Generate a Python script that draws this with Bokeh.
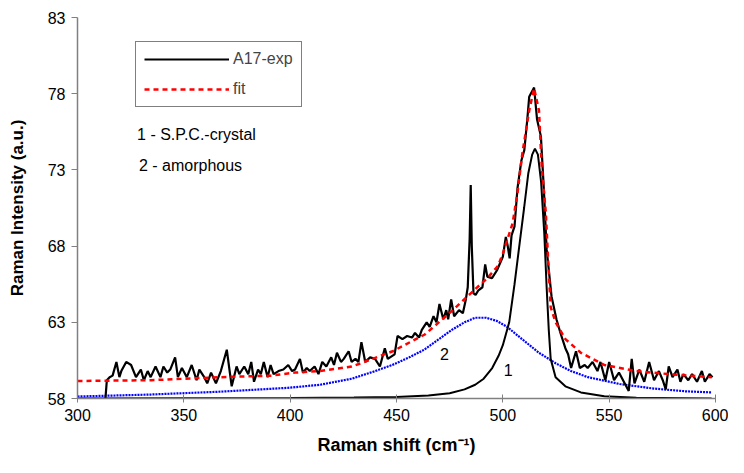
from bokeh.plotting import figure
from bokeh.models import ColumnDataSource, FixedTicker, Legend, LegendItem, Label, Range1d
from bokeh.embed import file_html
from bokeh.resources import INLINE

# ---- data ----
exp_x = [312.8, 313.8, 315.1, 316.5, 318.3, 319.7, 320.6, 322.9, 325.2, 327.5, 329.8, 331.2, 333.0,
         334.4, 336.7, 339.0, 340.4, 342.2, 343.6, 345.9, 347.2, 349.1, 351.4, 353.7, 356.0, 357.3,
         359.6, 361.0, 362.8, 365.1, 367.4, 370.2, 372.5, 374.8, 376.1, 378.4, 380.3, 381.7, 383.0,
         384.9, 386.2, 387.6, 389.4, 390.8, 392.2, 394.5, 396.8, 399.1, 400.9, 402.3, 404.6, 406.0,
         407.8, 409.2, 411.5, 413.3, 415.1, 417.0, 419.3, 420.6, 422.0, 423.9, 425.2, 427.5, 428.9,
         430.7, 432.1, 433.5, 435.3, 437.6, 439.9, 442.2, 444.5, 445.9, 449.1, 450.5, 452.8, 455.0,
         457.3, 458.7, 460.6, 461.9, 464.2, 465.6, 467.4, 468.8, 470.2, 472.0, 473.4, 474.3, 475.7,
         477.1, 479.4, 481.2, 482.6, 483.5, 484.4, 484.9, 485.4, 486.2, 487.2, 488.5, 490.4, 491.7,
         492.7, 494.9, 497.2, 500.0, 501.4, 502.3, 503.2, 504.1, 505.5, 506.9, 508.7, 510.1, 511.5,
         512.4, 514.7, 516.1, 517.9, 519.3, 520.6, 522.9, 525.2, 527.1, 529.4, 530.7, 532.1, 534.4,
         536.2, 538.5, 539.9, 542.2, 544.5, 545.9, 548.2, 550.0, 552.3, 554.6, 556.9, 559.2, 560.6,
         561.9, 564.2, 566.5, 568.8, 571.1, 573.4, 575.2, 576.6, 578.0, 579.8, 582.1, 583.5, 584.9,
         587.2, 589.0, 591.3, 593.6, 595.0, 597.2, 598.6]
exp_y = [57.4, 59.2, 59.4, 59.5, 60.4, 59.4, 59.8, 60.4, 60.2, 59.4, 59.9, 59.2, 59.8,
         59.4, 60.1, 59.4, 60.1, 59.7, 59.9, 60.7, 59.4, 60.0, 59.4, 60.2, 59.2, 59.9,
         59.4, 59.0, 59.7, 59.0, 59.8, 61.2, 58.8, 60.1, 59.6, 60.1, 59.6, 60.4, 59.1,
         59.9, 59.6, 60.4, 59.4, 60.2, 59.6, 59.8, 59.9, 60.2, 59.8, 59.9, 60.6, 59.7,
         60.0, 59.8, 60.1, 59.6, 60.4, 60.1, 60.7, 60.2, 61.0, 60.4, 60.6, 61.1, 60.4,
         60.6, 60.4, 61.7, 60.4, 60.7, 60.6, 60.1, 61.3, 60.6, 60.9, 62.1, 61.9, 62.1,
         62.0, 62.3, 62.0, 62.5, 63.0, 62.7, 63.4, 63.0, 64.2, 63.2, 63.8, 63.2, 64.5,
         63.4, 63.8, 63.6, 64.5, 65.3, 68.5, 72.0, 68.0, 64.9, 64.8, 65.1, 65.3, 66.8,
         66.0, 65.9, 66.4, 67.3, 68.6, 68.0, 67.2, 68.7, 69.3, 71.8, 73.6, 74.3, 76.3,
         77.8, 78.4, 76.3, 75.2, 71.7, 67.8, 64.7, 63.2, 62.3, 61.3, 60.9, 60.0, 61.1,
         60.0, 60.2, 60.0, 60.4, 59.8, 60.4, 59.2, 60.4, 59.2, 59.7, 59.1, 58.5, 60.6,
         59.0, 59.9, 59.1, 60.4, 59.2, 59.8, 59.2, 58.6, 60.1, 59.4, 59.9, 59.1, 59.6,
         59.2, 59.6, 59.1, 59.8, 59.1, 59.6, 59.4]

fit_x = [300.0, 334.4, 367.4, 390.8, 402.3, 413.8, 428.9, 433.0, 448.2, 463.3, 475.7, 484.9, 492.7,
         497.7, 500.0, 504.6, 506.9, 509.2, 512.4, 514.7, 517.0, 518.3, 520.2, 521.6, 522.5, 524.8,
         529.4, 536.7, 547.7, 562.8, 578.0, 598.2]
fit_y = [59.15, 59.2, 59.4, 59.5, 59.7, 59.8, 60.1, 60.3, 61.1, 62.2, 63.7, 64.9, 65.9,
         66.7, 67.5, 69.5, 71.5, 74.1, 76.9, 78.35, 76.9, 73.2, 70.2, 66.3, 64.0, 63.0,
         61.9, 61.0, 60.2, 59.8, 59.6, 59.4]

c1_x = [300.0, 350.0, 400.0, 430.0, 450.0, 465.0, 475.0, 482.0, 487.0, 491.0, 495.0, 498.0, 500.0,
        503.0, 505.5, 508.0, 510.0, 512.0, 513.8, 515.1, 516.5, 518.0, 519.5, 520.6, 521.6, 522.5,
        524.8, 529.4, 536.7, 547.7, 562.8, 598.2]
c1_y = [58.0, 58.01, 58.03, 58.06, 58.1, 58.2, 58.35, 58.6, 58.9, 59.3, 60.0, 60.8, 61.5,
        63.0, 65.5, 68.3, 70.5, 72.8, 74.0, 74.4, 74.0, 72.2, 68.8, 65.3, 62.5, 60.6,
        59.4, 58.8, 58.4, 58.15, 58.05, 58.0]

c2_x = [300.0, 334.4, 367.4, 399.0, 414.0, 429.0, 440.0, 448.0, 456.0, 463.0, 470.0, 476.0, 482.0,
        487.0, 492.0, 497.0, 502.0, 509.0, 517.0, 525.0, 532.0, 540.0, 555.0, 571.0, 586.0, 598.2]
c2_y = [58.13, 58.26, 58.45, 58.7, 58.9, 59.3, 59.8, 60.2, 60.7, 61.2, 61.9, 62.5, 63.0,
        63.3, 63.3, 63.1, 62.7, 61.9, 61.0, 60.3, 59.8, 59.4, 58.95, 58.65, 58.47, 58.4]

x_ticks = [300, 350, 400, 450, 500, 550, 600]
y_ticks = [58, 63, 68, 73, 78, 83]

series_names = ["A17-exp", "fit"]
note_texts = ["1 - S.P.C.-crystal", "2 - amorphous"]
note_x = [328.0, 328.9]
note_y = [75.3, 73.3]
curve_label_texts = ["1", "2"]
curve_label_x = [502.5, 472.5]
curve_label_y = [59.9, 60.9]

FONT = "Liberation Sans"

p = figure(width=728, height=457, output_backend="svg", toolbar_location=None,
           x_range=Range1d(300, 600), y_range=Range1d(58, 83),
           min_border_left=77, min_border_right=13, min_border_top=17, min_border_bottom=58)
p.outline_line_color = None
p.xgrid.grid_line_color = None
p.ygrid.grid_line_color = None

src_exp = ColumnDataSource(dict(x=exp_x, y=exp_y))
src_fit = ColumnDataSource(dict(x=fit_x, y=fit_y))
src_c1 = ColumnDataSource(dict(x=c1_x, y=c1_y))
src_c2 = ColumnDataSource(dict(x=c2_x, y=c2_y))

p.line("x", "y", source=src_c2, line_color="#0000FF", line_width=2.2, line_dash="2 1")
p.line("x", "y", source=src_c1, line_color="black", line_width=2)
r_exp = p.line("x", "y", source=src_exp, line_color="black", line_width=2.2)
r_fit = p.line("x", "y", source=src_fit, line_color="#FF0000", line_width=2.5, line_dash="5 4")

# axes
for ax in (p.xaxis[0], p.yaxis[0]):
    ax.axis_line_color = "#808080"
    ax.axis_line_width = 1.5
    ax.major_tick_line_color = "#808080"
    ax.minor_tick_line_color = None
    ax.major_label_text_font = FONT
    ax.major_label_text_font_size = "16px"
    ax.major_label_text_color = "black"
    ax.axis_label_text_font = FONT
    ax.axis_label_text_font_style = "bold"
    ax.axis_label_text_color = "black"

p.xaxis.axis_label_text_font_size = "18px"
p.yaxis.axis_label_text_font_size = "17px"
p.xaxis.ticker = FixedTicker(ticks=x_ticks)
p.yaxis.ticker = FixedTicker(ticks=y_ticks)
p.xaxis.major_tick_in = 4
p.xaxis.major_tick_out = 4
p.yaxis.major_tick_in = 0
p.yaxis.major_tick_out = 6
p.xaxis.major_label_standoff = 6
p.yaxis.major_label_standoff = 6
p.xaxis.axis_label = "Raman shift (cm\u207b\u00b9)"
p.yaxis.axis_label = "Raman Intensity (a.u.)"
p.xaxis.axis_label_standoff = 11
p.yaxis.axis_label_standoff = 18

legend = Legend(items=[LegendItem(label=series_names[0], renderers=[r_exp]),
                       LegendItem(label=series_names[1], renderers=[r_fit])],
                location=(58, 291))
legend.border_line_color = "black"
legend.border_line_width = 1
legend.background_fill_alpha = 1
legend.padding = 8
legend.margin = 0
legend.spacing = 12
legend.glyph_width = 85
legend.glyph_height = 16
legend.label_standoff = 4
legend.label_text_font = FONT
legend.label_text_font_size = "16px"
legend.label_height = 16
p.add_layout(legend)

for t, xx, yy in zip(note_texts, note_x, note_y):
    p.add_layout(Label(x=xx, y=yy, text=t, text_font=FONT, text_font_size="16px",
                       text_baseline="middle", text_align="left", text_color="black"))
for t, xx, yy in zip(curve_label_texts, curve_label_x, curve_label_y):
    p.add_layout(Label(x=xx, y=yy, text=t, text_font=FONT, text_font_size="16px",
                       text_baseline="middle", text_align="center", text_color="black"))

open("out.html", "w").write(file_html(p, INLINE))
